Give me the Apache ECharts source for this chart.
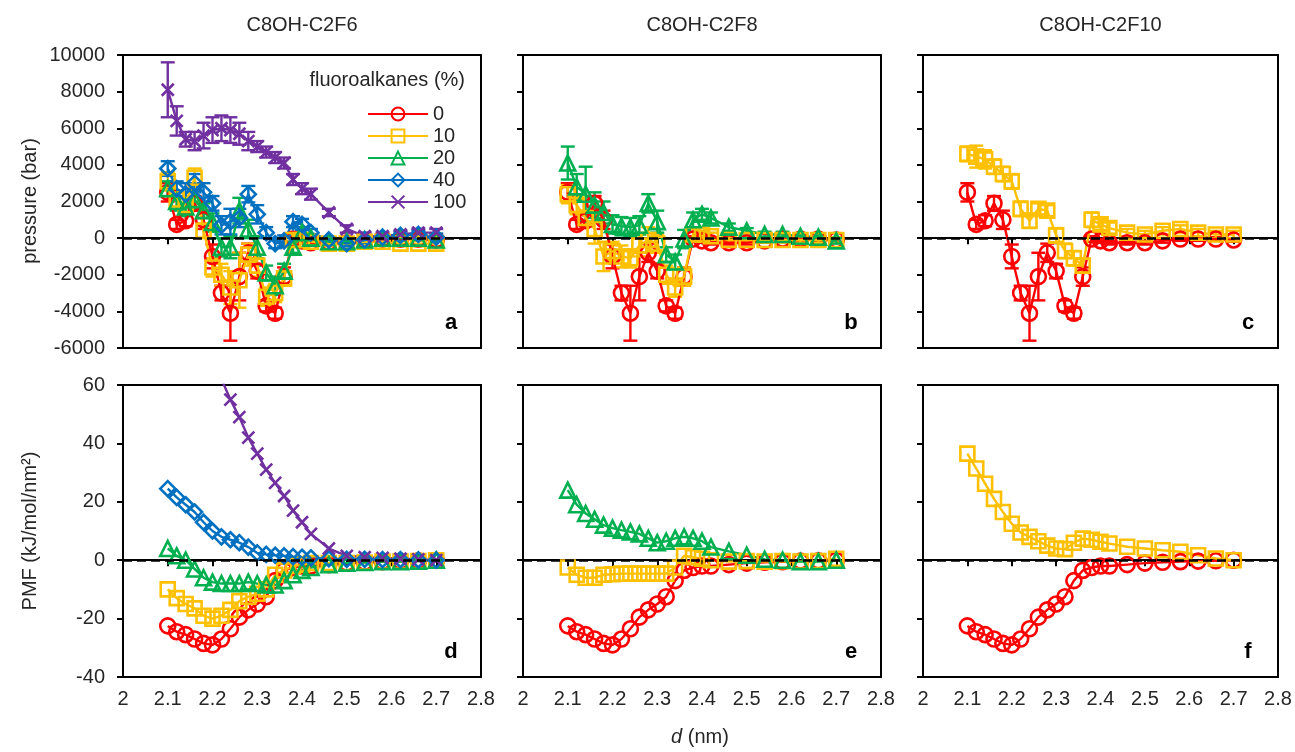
<!DOCTYPE html>
<html>
<head>
<meta charset="utf-8">
<script src="https://cdn.jsdelivr.net/npm/echarts@6/dist/echarts.min.js"></script>
<style>
  html, body { margin: 0; padding: 0; background: #fff; }
  #main { width: 1295px; height: 752px; }
</style>
</head>
<body>
<div id="main"></div>
<script>
// distance d (nm) of every sample
const dist = [2.10, 2.12, 2.14, 2.16, 2.18, 2.20, 2.22, 2.24, 2.26, 2.28, 2.30, 2.32,
              2.34, 2.36, 2.38, 2.40, 2.42, 2.46, 2.50, 2.54, 2.58, 2.62, 2.66, 2.70];

const seriesNames = ['0', '10', '20', '40', '100'];
const panelTitles = ['C8OH-C2F6', 'C8OH-C2F8', 'C8OH-C2F10'];
const panelLetters = ['a', 'b', 'c', 'd', 'e', 'f'];

// pressure (bar), pure C8OH, shared by a, b, c
const press0 = [2500, 750, 950, 1900, 1000, -1000, -3000, -4100, -2100, -800, -1800, -3700,
                -4100, -2100, -50, -150, -250, -250, -250, -150, -50, -50, -50, -100];
const press0Err = [500, 250, 300, 400, 500, 650, 400, 1500, 1300, 500, 400, 300,
                   300, 500, 150, 100, 100, 100, 100, 100, 100, 100, 100, 100];

// panel a, C2F6
const pressA10 = [3100, 2100, 1800, 3300, 400, -1600, -2000, -2700, -2300, -900, -1500, -3200,
                  -3000, -2200, -100, -100, -200, -300, -300, -200, -200, -300, -300, -300];
const pressA10Err = [500, 500, 500, 500, 400, 500, 600, 900, 1500, 600, 600, 500,
                     500, 400, 300, 200, 200, 150, 150, 150, 150, 150, 150, 150];
const pressA20 = [2700, 2000, 1700, 2100, 1500, 850, -500, -500, 1500, 500, -500, -1900,
                  -2600, -1800, -500, 300, 0, -200, -200, -100, 0, 0, 0, -100];
const pressA20Err = [400, 500, 500, 500, 400, 500, 500, 600, 700, 500, 600, 400,
                     500, 400, 300, 300, 200, 150, 150, 100, 100, 100, 100, 100];
const pressA40 = [3800, 2700, 2400, 3000, 2500, 1900, 700, 900, 1100, 2400, 1300, 300,
                  -300, -150, 900, 750, 300, -100, -300, -100, 50, 150, 200, 50];
const pressA40Err = [400, 400, 600, 500, 500, 400, 500, 700, 500, 450, 500, 300,
                     250, 300, 300, 300, 200, 150, 150, 150, 150, 200, 200, 200];
const pressA100 = [8100, 6400, 5400, 5300, 5600, 5900, 6000, 5900, 5700, 5300, 5000, 4700,
                   4400, 4100, 3200, 2700, 2400, 1400, 500, 100, 100, 200, 300, 300];
const pressA100Err = [1500, 800, 400, 500, 700, 700, 700, 700, 600, 500, 300, 300,
                      300, 300, 300, 300, 300, 200, 200, 200, 200, 200, 200, 200];

// panel b, C2F8
const pressB10 = [2400, 1800, 1100, 500, -1000, -700, -1000, -1100, -400, -100, -300, -2000,
                  -2700, -2100, 200, 200, 100, -100, -100, -100, -100, -100, -100, -100];
const pressB10Err = [500, 500, 400, 800, 800, 500, 600, 500, 600, 700, 500, 500,
                     500, 500, 300, 200, 200, 150, 150, 150, 150, 150, 150, 150];
const pressB20 = [4100, 2800, 2400, 1800, 1400, 750, 650, 600, 700, 1900, 900, -900,
                  -1300, -50, 1000, 1300, 1100, 600, 400, 200, 200, 100, 50, -150];
const pressB20Err = [900, 700, 1500, 700, 600, 500, 500, 500, 500, 500, 600, 400,
                     400, 500, 400, 300, 300, 200, 150, 150, 150, 150, 150, 150];

// panel c, C2F10
const pressC10 = [4600, 4450, 4300, 3900, 3500, 3100, 1600, 950, 1600, 1500, 150, -700,
                  -1100, -1500, 1000, 750, 550, 300, 200, 400, 500, 300, 200, 200];
const pressC10Err = [400, 600, 500, 400, 400, 400, 400, 400, 300, 300, 400, 400,
                     400, 400, 400, 300, 300, 200, 200, 200, 200, 200, 200, 200];

// PMF (kJ/mol/nm2), pure C8OH, shared by d, e, f
const pmf0 = [-22.5, -24.5, -25.5, -27, -28.5, -29, -27, -23.5, -19.5, -17, -15, -12.5,
              -7, -3.5, -2.5, -2, -2, -1.5, -1, -0.7, -0.5, -0.3, -0.2, 0];
const pmfD10 = [-10, -13, -15, -16.5, -19, -20, -19, -17, -14, -12.5, -11.5, -10,
                -5, -3.5, -2, -1.5, -1, -1, -1, -0.8, -0.5, -0.5, -0.3, 0];
const pmfD20 = [4, 1.5, 0, -3, -6, -7.5, -8, -8, -8, -7.5, -8, -8.5,
                -8.5, -7, -5, -3.5, -2.5, -1.5, -1, -0.8, -0.5, -0.5, -0.3, 0];
const pmfD40 = [24.5, 21.5, 19, 16.5, 13, 10, 8, 7, 6, 4.5, 2.5, 2,
                1.7, 1.5, 1.2, 1, 0.8, 0.5, 0.3, 0.3, 0.2, 0.2, 0.1, 0];
const pmfD100 = [null, null, null, null, null, 70, 62, 55, 49, 42, 36.5, 31,
                 26.5, 22, 17, 13, 9, 4, 1.5, 1, 0.8, 0.5, 0.3, 0];
const pmfE10 = [-2.5, -5, -6, -6, -5, -4.8, -4.6, -4.6, -4.6, -4.6, -4.6, -4.6,
                -2.5, 1.5, 1, 0.5, 0, -0.5, -0.3, -0.5, -0.3, -0.5, -0.3, 0.5];
const pmfE20 = [24, 19, 16, 14, 12, 11, 10.3, 9.7, 9, 7.5, 6, 6.5,
                7.5, 8, 7.5, 6.5, 4.5, 3, 1.7, 0.3, 0, -0.5, -0.5, 0];
const pmfF10 = [36.5, 31.4, 26.2, 21, 16.5, 12.5, 9.5, 8, 6.5, 5, 4, 3.8,
                6, 7.4, 7, 6.3, 5.7, 4.6, 4, 3.4, 2.9, 1.7, 0.6, 0];

const FONT = 'Liberation Sans, Arial, sans-serif';
const TXT = '#262626';

const look = {
  '0':   {color: '#FF0000', symbol: 'circle', size: 15},
  '10':  {color: '#FFC000', symbol: 'rect', size: 14},
  '20':  {color: '#00B050', symbol: 'triangle', size: 15},
  '40':  {color: '#0070C0', symbol: 'diamond', size: 15},
  '100': {color: '#7030A0', symbol: 'path://M0,0L10,10M10,0L0,10', size: 12}
};

// plot boxes, in pixels
const cols = [{left: 123, width: 358}, {left: 523, width: 358}, {left: 923, width: 355}];
const rows = [{top: 55, height: 293}, {top: 385, height: 292}];

const grids = [], xAxes = [], yAxes = [];
for (let r = 0; r < 2; r++) {
  for (let c = 0; c < 3; c++) {
    grids.push({left: cols[c].left, width: cols[c].width, top: rows[r].top, height: rows[r].height,
                show: true, borderColor: '#000', borderWidth: 2, backgroundColor: 'transparent'});
    xAxes.push({
      type: 'value', gridIndex: grids.length - 1, min: 2, max: 2.8, interval: 0.1,
      axisLine: {lineStyle: {color: '#000', width: 2}},
      axisTick: {show: true, length: 6, lineStyle: {color: '#000', width: 2}},
      splitLine: {show: false},
      axisLabel: {show: r === 1, margin: 12, fontSize: 20, fontFamily: FONT, color: TXT,
                  formatter: v => String(Math.round(v * 10) / 10)}
    });
    yAxes.push({
      type: 'value', gridIndex: grids.length - 1,
      min: r === 0 ? -6000 : -40, max: r === 0 ? 10000 : 60, interval: r === 0 ? 2000 : 20,
      axisLine: {show: true, lineStyle: {color: '#000', width: 2}},
      axisTick: {show: true, length: 6, lineStyle: {color: '#000', width: 2}},
      splitLine: {show: false},
      axisLabel: {show: c === 0, margin: 18, fontSize: 20, fontFamily: FONT, color: TXT,
                  formatter: v => String(v)}
    });
  }
}

function lineSeries(k, name, ys) {
  const s = look[name];
  const pts = [];
  dist.forEach((x, i) => { if (ys[i] !== null) pts.push([x, ys[i]]); });
  return {
    type: 'line', name: name, xAxisIndex: k, yAxisIndex: k, data: pts,
    symbol: s.symbol, symbolSize: s.size, clip: true,
    lineStyle: {color: s.color, width: 2.4},
    itemStyle: {color: 'rgba(255,255,255,0)', borderColor: s.color, borderWidth: 2.6},
    emphasis: {disabled: true}, animation: false
  };
}

function errorSeries(k, name, ys, es) {
  const color = look[name].color;
  return {
    type: 'custom', name: 'err' + name, xAxisIndex: k, yAxisIndex: k, silent: true, clip: true,
    data: dist.map((x, i) => [x, ys[i] - es[i], ys[i] + es[i]]),
    encode: {x: 0, y: [1, 2]},
    animation: false,
    renderItem: (params, api) => {
      const lo = api.coord([api.value(0), api.value(1)]);
      const hi = api.coord([api.value(0), api.value(2)]);
      const h = 7;
      const st = {stroke: color, lineWidth: 2.4};
      return {type: 'group', children: [
        {type: 'line', shape: {x1: lo[0], y1: lo[1], x2: hi[0], y2: hi[1]}, style: st},
        {type: 'line', shape: {x1: lo[0] - h, y1: lo[1], x2: lo[0] + h, y2: lo[1]}, style: st},
        {type: 'line', shape: {x1: hi[0] - h, y1: hi[1], x2: hi[0] + h, y2: hi[1]}, style: st}
      ]};
    }
  };
}

const zeroLine = {
  silent: true, symbol: ['none', 'none'], label: {show: false}, animation: false,
  lineStyle: {color: '#000', type: [9, 5], width: 2.5}, data: [{yAxis: 0}]
};

// panel k -> list of [name, values, errors]
const panelData = [
  [['0', press0, press0Err], ['10', pressA10, pressA10Err], ['20', pressA20, pressA20Err],
   ['40', pressA40, pressA40Err], ['100', pressA100, pressA100Err]],
  [['0', press0, press0Err], ['10', pressB10, pressB10Err], ['20', pressB20, pressB20Err]],
  [['0', press0, press0Err], ['10', pressC10, pressC10Err]],
  [['0', pmf0], ['10', pmfD10], ['20', pmfD20], ['40', pmfD40], ['100', pmfD100]],
  [['0', pmf0], ['10', pmfE10], ['20', pmfE20]],
  [['0', pmf0], ['10', pmfF10]]
];

const series = [];
panelData.forEach((list, k) => {
  list.forEach(([name, ys, es], j) => {
    if (es) series.push(errorSeries(k, name, ys, es));
    const s = lineSeries(k, name, ys);
    if (j === list.length - 1) s.markLine = zeroLine;
    series.push(s);
  });
});

const graphic = [];
panelTitles.forEach((t, c) => {
  graphic.push({type: 'text', x: cols[c].left + cols[c].width / 2, y: 25,
    style: {text: t, font: '20px ' + FONT, fill: TXT, align: 'center', verticalAlign: 'middle'}});
});
panelLetters.forEach((t, k) => {
  const c = k % 3, r = Math.floor(k / 3);
  graphic.push({type: 'text', x: cols[c].left + cols[c].width - 30, y: rows[r].top + rows[r].height - 25,
    style: {text: t, font: 'bold 22px ' + FONT, fill: '#000', align: 'center', verticalAlign: 'middle'}});
});
graphic.push({type: 'text', x: 30, y: 201, rotation: Math.PI / 2,
  style: {text: 'pressure (bar)', font: '20px ' + FONT, fill: TXT, align: 'center', verticalAlign: 'middle'}});
graphic.push({type: 'text', x: 30, y: 531, rotation: Math.PI / 2,
  style: {text: 'PMF (kJ/mol/nm²)', font: '20px ' + FONT, fill: TXT, align: 'center', verticalAlign: 'middle'}});
graphic.push({type: 'text', x: 700, y: 737,
  style: {text: '{i|d} (nm)', font: '20px ' + FONT, fill: TXT, align: 'center', verticalAlign: 'middle',
          rich: {i: {fontStyle: 'italic', fontSize: 20, fontFamily: FONT, fill: TXT}}}});
graphic.push({type: 'text', x: 465, y: 80,
  style: {text: 'fluoroalkanes (%)', font: '20px ' + FONT, fill: TXT, align: 'right', verticalAlign: 'middle'}});

const myChart = echarts.init(document.getElementById('main'), null, {renderer: 'canvas'});
myChart.setOption({
  animation: false,
  backgroundColor: '#fff',
  grid: grids,
  xAxis: xAxes,
  yAxis: yAxes,
  legend: {
    data: seriesNames, orient: 'vertical', left: 362, top: 99,
    itemWidth: 60, itemHeight: 16, itemGap: 2, selectedMode: false,
    textStyle: {fontSize: 20, fontFamily: FONT, color: TXT}
  },
  graphic: graphic,
  series: series
});
</script>
</body>
</html>
